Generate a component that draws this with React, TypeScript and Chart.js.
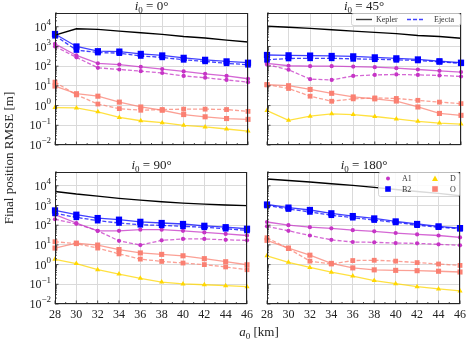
import React, { useEffect, useRef } from "react";
import { Chart, registerables } from "chart.js";

Chart.register(...registerables);

// ---------- data ----------
const a0 = [28, 30, 32, 34, 36, 38, 40, 42, 44, 46];
const xMinor = [29, 31, 33, 35, 37, 39, 41, 43, 45];
const yDecades = [1e-2, 1e-1, 1, 1e1, 1e2, 1e3, 1e4];
const yTickExp = ["\u22122", "\u22121", "0", "1", "2", "3", "4"];
const panelTitles = ["0\u00b0", "45\u00b0", "90\u00b0", "180\u00b0"];
const legendStyles = ["Kepler", "Ejecta"];
const legendBodies = ["A1", "B2", "D", "O"];

// i0 = 0°
const kepler0 = [3800, 7900, 7400, 6000, 5000, 4100, 3200, 2700, 2100, 1700];
const b2Kep0 = [4300, 1000, 575, 550, 420, 350, 265, 210, 175, 150];
const b2Ej0 = [3500, 660, 490, 460, 330, 280, 210, 175, 140, 118];
const a1Kep0 = [1350, 350, 140, 120, 93, 71, 54, 41, 32, 23];
const a1Ej0 = [1000, 280, 83, 68, 56, 45, 32, 26, 20, 15.5];
const oKep0 = [9.8, 4.0, 3.0, 1.5, 0.85, 0.58, 0.35, 0.27, 0.22, 0.2];
const oEj0 = [15.5, 3.5, 1.2, 0.7, 0.58, 0.63, 0.66, 0.66, 0.63, 0.51];
const dKep0 = [0.79, 0.76, 0.48, 0.25, 0.17, 0.135, 0.1, 0.083, 0.065, 0.051];

// i0 = 45°
const kepler45 = [10700, 9500, 8300, 7100, 6000, 5200, 4500, 3600, 3200, 2600];
const b2Kep45 = [370, 355, 345, 330, 315, 280, 250, 220, 178, 150];
const b2Ej45 = [210, 245, 250, 250, 235, 225, 210, 195, 165, 140];
const a1Kep45 = [140, 105, 100, 100, 95, 89, 79, 68, 58, 50];
const a1Ej45 = [120, 66, 22, 20, 32, 36, 38, 36, 34, 30];
const oKep45 = [11.5, 10.2, 6.6, 4.2, 2.75, 2.2, 1.7, 0.85, 0.4, 0.32];
const oEj45 = [11.5, 7.4, 3.0, 1.66, 2.2, 2.45, 2.3, 1.85, 1.5, 1.26];
const dKep45 = [0.56, 0.18, 0.29, 0.38, 0.35, 0.28, 0.21, 0.16, 0.13, 0.115];

// i0 = 90°
const kepler90 = [5100, 3800, 3000, 2300, 1860, 1550, 1320, 1170, 1050, 980];
const b2Kep90 = [560, 340, 230, 190, 148, 129, 115, 93, 79, 66];
const b2Ej90 = [400, 250, 170, 129, 105, 98, 87, 78, 66, 54];
const a1Kep90 = [340, 129, 52, 52, 59, 59, 52, 43, 36, 30];
const a1Ej90 = [200, 117, 52, 16, 9.8, 17, 20, 20, 18, 17];
const oKep90 = [6.9, 12.3, 9.8, 5.8, 3.9, 3.3, 2.8, 2.0, 1.4, 0.98];
const oEj90 = [14.5, 11.5, 6.9, 3.5, 1.9, 1.45, 1.2, 1.0, 0.76, 0.55];
const dKep90 = [1.86, 1.12, 0.55, 0.33, 0.2, 0.13, 0.105, 0.095, 0.085, 0.076];

// i0 = 180°
const kepler180 = [21900, 18600, 15500, 12600, 10500, 8300, 6500, 5100, 4100, 3100];
const b2Kep180 = [1120, 780, 590, 400, 290, 220, 155, 115, 87, 71];
const b2Ej180 = [1000, 660, 470, 320, 240, 182, 138, 100, 79, 66];
const a1Kep180 = [145, 100, 79, 69, 56, 49, 40, 34, 30, 24];
const a1Ej180 = [87, 52, 30, 18, 14, 13.5, 12.3, 12, 10.7, 9.5];
const oKep180 = [17, 6.9, 3.0, 1.15, 0.68, 0.54, 0.51, 0.49, 0.46, 0.42];
const oEj180 = [23, 6.5, 1.5, 1.07, 1.6, 1.66, 1.5, 1.26, 1.07, 0.91];
const dKep180 = [2.8, 1.3, 0.72, 0.41, 0.26, 0.155, 0.107, 0.076, 0.058, 0.046];

// ---------- styles ----------
const FONT = "'Liberation Serif', 'DejaVu Serif', serif";
const BLUE = "#0000ff";
const MAG = "#c634c6";
const SALMON = "#fa8072";
const GOLD = "#ffd700";
const TXT = "#222";

type Series = { kep: number[]; b2k: number[]; b2e: number[]; a1k: number[]; a1e: number[]; ok: number[]; oe: number[]; dk: number[] };

const panels = [
  { title: panelTitles[0], L: 55, T: 13, W: 193, H: 132, showX: false, showY: true, legend: 0, s: { kep: kepler0, b2k: b2Kep0, b2e: b2Ej0, a1k: a1Kep0, a1e: a1Ej0, ok: oKep0, oe: oEj0, dk: dKep0 } },
  { title: panelTitles[1], L: 267, T: 13, W: 194, H: 132, showX: false, showY: false, legend: 1, s: { kep: kepler45, b2k: b2Kep45, b2e: b2Ej45, a1k: a1Kep45, a1e: a1Ej45, ok: oKep45, oe: oEj45, dk: dKep45 } },
  { title: panelTitles[2], L: 55, T: 172, W: 193, H: 132, showX: true, showY: true, legend: 0, s: { kep: kepler90, b2k: b2Kep90, b2e: b2Ej90, a1k: a1Kep90, a1e: a1Ej90, ok: oKep90, oe: oEj90, dk: dKep90 } },
  { title: panelTitles[3], L: 267, T: 172, W: 194, H: 132, showX: true, showY: false, legend: 2, s: { kep: kepler180, b2k: b2Kep180, b2e: b2Ej180, a1k: a1Kep180, a1e: a1Ej180, ok: oKep180, oe: oEj180, dk: dKep180 } },
];

const PADL = 45, PADT = 6, PADR = 9, PADB = 28;

function pts(arr: number[]) {
  return a0.map((x, i) => ({ x, y: arr[i] }));
}

function alpha(hex: string, a: number) {
  const r = parseInt(hex.slice(1, 3), 16), g = parseInt(hex.slice(3, 5), 16), b = parseInt(hex.slice(5, 7), 16);
  return `rgba(${r},${g},${b},${a})`;
}

function ds(data: number[], color: string, style: string, radius: number, dashed: boolean) {
  return {
    data: pts(data),
    borderColor: alpha(color, 0.75),
    backgroundColor: color,
    pointBackgroundColor: color,
    pointBorderColor: color,
    pointBorderWidth: 0,
    pointStyle: style,
    pointRadius: radius,
    borderWidth: 1.3,
    borderDash: dashed ? [4, 2] : [],
    tension: 0,
    clip: false as any,
  };
}

function buildDatasets(s: Series) {
  return [
    { data: pts(s.kep), borderColor: "#000", borderWidth: 1.4, pointRadius: 0, tension: 0, clip: false as any },
    ds(s.b2k, BLUE, "rect", 4.4, false),
    ds(s.b2e, BLUE, "rect", 4.0, true),
    ds(s.a1k, MAG, "circle", 2.1, false),
    ds(s.a1e, MAG, "circle", 2.1, true),
    ds(s.dk, GOLD, "triangle", 3.0, false),
    ds(s.ok, SALMON, "rect", 3.6, false),
    ds(s.oe, SALMON, "rect", 3.4, true),
  ];
}

function drawMarker(ctx: CanvasRenderingContext2D, style: string, x: number, y: number, r: number, color: string) {
  ctx.fillStyle = color;
  ctx.beginPath();
  if (style === "circle") ctx.arc(x, y, r, 0, Math.PI * 2);
  else if (style === "rect") ctx.rect(x - r, y - r, 2 * r, 2 * r);
  else {
    ctx.moveTo(x, y - r);
    ctx.lineTo(x + r, y + r * 0.8);
    ctx.lineTo(x - r, y + r * 0.8);
    ctx.closePath();
  }
  ctx.fill();
}

const framePlugin = {
  id: "frame",
  afterDraw(chart: any, _args: any, opts: any) {
    const { ctx, chartArea: a, scales } = chart;
    const xs = scales.x, ys = scales.y;
    ctx.save();
    ctx.strokeStyle = TXT;
    ctx.lineWidth = 0.8;
    ctx.beginPath();
    // x ticks inward (bottom)
    a0.forEach((v) => { const px = xs.getPixelForValue(v); ctx.moveTo(px, a.bottom); ctx.lineTo(px, a.bottom - 3.5); });
    xMinor.forEach((v) => { const px = xs.getPixelForValue(v); ctx.moveTo(px, a.bottom); ctx.lineTo(px, a.bottom - 2); });
    // y ticks inward (left)
    yDecades.forEach((v) => { const py = ys.getPixelForValue(v); ctx.moveTo(a.left, py); ctx.lineTo(a.left + 3.5, py); });
    yDecades.forEach((v) => {
      for (let k = 2; k <= 9; k++) {
        const val = v * k;
        if (val > ys.max) continue;
        const py = ys.getPixelForValue(val);
        ctx.moveTo(a.left, py); ctx.lineTo(a.left + 2, py);
      }
    });
    ctx.stroke();
    // frame
    ctx.lineWidth = 1;
    ctx.strokeStyle = "#262626";
    ctx.strokeRect(a.left + 0.5, a.top + 0.5, a.right - a.left - 1, a.bottom - a.top - 1);

    // y tick labels with superscripts
    if (opts.showY) {
      ctx.fillStyle = TXT;
      ctx.textBaseline = "middle";
      ctx.textAlign = "right";
      yDecades.forEach((v, i) => {
        const py = ys.getPixelForValue(v);
        ctx.font = `9px ${FONT}`;
        const ew = ctx.measureText(yTickExp[i]).width;
        const xr = a.left - 4;
        ctx.fillText(yTickExp[i], xr, py - 4);
        ctx.font = `12px ${FONT}`;
        ctx.fillText("10", xr - ew, py + 1);
      });
    }

    // legends
    if (opts.legend === 1) {
      const w = 110, h = 13;
      const x0 = a.right - w, y0 = a.top;
      ctx.fillStyle = "rgba(255,255,255,0.85)";
      ctx.strokeStyle = "#cccccc";
      ctx.lineWidth = 0.8;
      ctx.beginPath();
      (ctx as any).roundRect(x0 + 0.5, y0 + 0.5, w - 1, h - 1, 2);
      ctx.fill(); ctx.stroke();
      const cy = y0 + h / 2;
      ctx.lineWidth = 1.4;
      ctx.strokeStyle = "#3a3a3a";
      ctx.setLineDash([]);
      ctx.beginPath(); ctx.moveTo(x0 + 5, cy); ctx.lineTo(x0 + 21, cy); ctx.stroke();
      ctx.strokeStyle = alpha(BLUE, 0.75);
      ctx.setLineDash([4, 2]);
      ctx.beginPath(); ctx.moveTo(x0 + 56, cy); ctx.lineTo(x0 + 72, cy); ctx.stroke();
      ctx.setLineDash([]);
      ctx.fillStyle = "#333";
      ctx.font = `8px ${FONT}`;
      ctx.textAlign = "left";
      ctx.textBaseline = "middle";
      ctx.fillText(legendStyles[0], x0 + 25, cy + 0.5);
      ctx.fillText(legendStyles[1], x0 + 83, cy + 0.5);
    } else if (opts.legend === 2) {
      const w = 82, h = 25;
      const x0 = a.right - w, y0 = a.top;
      ctx.fillStyle = "rgba(255,255,255,0.85)";
      ctx.strokeStyle = "#cccccc";
      ctx.lineWidth = 0.8;
      ctx.beginPath();
      (ctx as any).roundRect(x0 + 0.5, y0 + 0.5, w - 1, h - 1, 2);
      ctx.fill(); ctx.stroke();
      const r1 = y0 + 6.5, r2 = y0 + 17;
      drawMarker(ctx, "circle", x0 + 10, r1, 2, MAG);
      drawMarker(ctx, "rect", x0 + 10, r2, 2.8, BLUE);
      drawMarker(ctx, "triangle", x0 + 57, r1, 3, GOLD);
      drawMarker(ctx, "rect", x0 + 57, r2, 2.8, SALMON);
      ctx.fillStyle = "#333";
      ctx.font = `8px ${FONT}`;
      ctx.textAlign = "left";
      ctx.textBaseline = "middle";
      ctx.fillText(legendBodies[0], x0 + 24, r1 + 0.5);
      ctx.fillText(legendBodies[1], x0 + 24, r2 + 0.5);
      ctx.fillText(legendBodies[2], x0 + 72, r1 + 0.5);
      ctx.fillText(legendBodies[3], x0 + 72, r2 + 0.5);
    }
    ctx.restore();
  },
};

function Panel(p: typeof panels[number]) {
  const ref = useRef<HTMLCanvasElement>(null);
  const cw = p.W + PADL + PADR, ch = p.H + PADT + PADB;
  useEffect(() => {
    if (!ref.current) return;
    const chart = new Chart(ref.current, {
      type: "line",
      data: { datasets: buildDatasets(p.s) as any },
      options: {
        responsive: false,
        animation: false,
        events: [],
        devicePixelRatio: 1,
        layout: { padding: { left: 0, top: PADT, right: PADR, bottom: 0 } },
        plugins: { legend: { display: false }, tooltip: { enabled: false }, frame: { showY: p.showY, legend: p.legend } } as any,
        scales: {
          x: {
            type: "linear",
            min: 28,
            max: 46,
            afterBuildTicks: (s: any) => { s.ticks = a0.map((v) => ({ value: v })); },
            afterFit: (s: any) => { s.height = PADB; },
            grid: { color: "#dadada", lineWidth: 1, drawTicks: false },
            border: { display: false },
            ticks: {
              display: p.showX,
              autoSkip: false,
              maxRotation: 0,
              padding: 4,
              color: TXT,
              font: { family: FONT, size: 12 },
              callback: (v: any) => String(v),
            },
          },
          y: {
            type: "logarithmic",
            min: 1e-2,
            max: 5e4,
            afterBuildTicks: (s: any) => { s.ticks = yDecades.map((v) => ({ value: v })); },
            afterFit: (s: any) => { s.width = PADL; },
            grid: { color: "#dadada", lineWidth: 1, drawTicks: false },
            border: { display: false },
            ticks: { display: false },
          },
        },
      } as any,
      plugins: [framePlugin as any],
    });
    return () => chart.destroy();
  }, []);
  return (
    <>
      <canvas
        ref={ref}
        width={cw}
        height={ch}
        style={{ position: "absolute", left: p.L - PADL, top: p.T - PADT, width: cw, height: ch }}
      />
      <div
        style={{
          position: "absolute",
          left: p.L,
          width: p.W,
          top: p.T - 14,
          height: 14,
          lineHeight: "14px",
          textAlign: "center",
          fontFamily: FONT,
          fontSize: 13,
          color: TXT,
          whiteSpace: "nowrap",
        }}
      >
        <i>i</i>
        <span style={{ fontSize: 9, position: "relative", top: 3 }}>0</span>
        {" = "}
        {p.title}
      </div>
    </>
  );
}

export default function App() {
  return (
    <div style={{ position: "fixed", left: 0, top: 0, width: 471, height: 343, background: "#fff", overflow: "hidden" }}>
      {panels.map((p, i) => (
        <Panel key={i} {...p} />
      ))}
      <div
        style={{
          position: "absolute",
          left: 9 - 100,
          top: 158 - 8,
          width: 200,
          height: 16,
          lineHeight: "16px",
          textAlign: "center",
          transform: "rotate(-90deg)",
          fontFamily: FONT,
          fontSize: 13,
          color: TXT,
          whiteSpace: "nowrap",
        }}
      >
        Final position RMSE [m]
      </div>
      <div
        style={{
          position: "absolute",
          left: 200,
          width: 118,
          top: 324,
          height: 15,
          lineHeight: "15px",
          textAlign: "center",
          fontFamily: FONT,
          fontSize: 13,
          color: TXT,
          whiteSpace: "nowrap",
        }}
      >
        <i>a</i>
        <span style={{ fontSize: 9, position: "relative", top: 3 }}>0</span> [km]
      </div>
    </div>
  );
}
